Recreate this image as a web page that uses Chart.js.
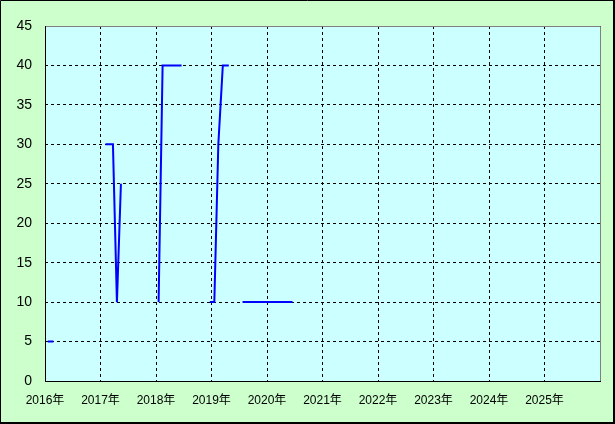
<!DOCTYPE html>
<html>
<head>
<meta charset="utf-8">
<script src="https://cdn.jsdelivr.net/npm/chart.js@4/dist/chart.umd.min.js"></script>
<style>
  html, body { margin: 0; padding: 0; background: #ccffcc; }
  canvas { display: block; }
</style>
</head>
<body>
<canvas id="c" width="615" height="424"></canvas>
<script>
// Decimal-year positions of the recorded values (null value = break in the line)
const dates = [
  2016.05, 2016.15, 2016.60,
  2017.09, 2017.224, 2017.296, 2017.368, 2017.70,
  2018.047, 2018.119, 2018.461, 2018.70,
  2018.970, 2019.051, 2019.123, 2019.204, 2019.312, 2019.45,
  2019.559, 2020.459
];
const values = [
  5, 5, null,
  30, 30, 10, 25, null,
  10, 40, 40, null,
  10, 10, 30, 40, 40, null,
  10, 10
];
const yearTicks = [2016, 2017, 2018, 2019, 2020, 2021, 2022, 2023, 2024, 2025];
const yearSuffix = '年';

const points = dates.map((d, i) => ({ x: d, y: values[i] }));

const bgPlugin = {
  id: 'bg',
  beforeDraw(chart) {
    const { ctx, chartArea: a } = chart;
    ctx.save();
    ctx.fillStyle = '#ccffcc';
    ctx.fillRect(0, 0, chart.width, chart.height);
    ctx.fillStyle = '#ccffff';
    ctx.fillRect(a.left, a.top, a.right - a.left, a.bottom - a.top);
    ctx.restore();
  },
  afterDraw(chart) {
    const { ctx, chartArea: a } = chart;
    ctx.save();
    ctx.lineWidth = 1;
    // plot frame: gray top/right, black left/bottom
    ctx.strokeStyle = '#808080';
    ctx.beginPath();
    ctx.moveTo(a.left, a.top + 0.5);
    ctx.lineTo(a.right + 0.5, a.top + 0.5);
    ctx.lineTo(a.right + 0.5, a.bottom);
    ctx.stroke();
    ctx.strokeStyle = '#000000';
    ctx.beginPath();
    ctx.moveTo(a.left + 0.5, a.top);
    ctx.lineTo(a.left + 0.5, a.bottom + 0.5);
    ctx.lineTo(a.right + 1, a.bottom + 0.5);
    ctx.stroke();
    // outer border
    ctx.beginPath();
    ctx.moveTo(0.5, chart.height);
    ctx.lineTo(0.5, 0.5);
    ctx.lineTo(chart.width, 0.5);
    ctx.stroke();
    ctx.fillStyle = '#000000';
    ctx.fillRect(chart.width - 2, 0, 2, chart.height);
    ctx.fillRect(0, chart.height - 2, chart.width, 2);
    ctx.restore();
  }
};

new Chart(document.getElementById('c'), {
  type: 'line',
  data: {
    datasets: [{
      data: points,
      borderColor: '#0000ff',
      borderWidth: 2,
      pointRadius: 0,
      spanGaps: false,
      tension: 0,
      fill: false
    }]
  },
  options: {
    responsive: false,
    animation: false,
    devicePixelRatio: 1,
    parsing: true,
    layout: { padding: { left: 0, top: 26, right: 15, bottom: 0 } },
    plugins: { legend: { display: false }, tooltip: { enabled: false } },
    scales: {
      x: {
        type: 'linear',
        min: 2016,
        max: 2026,
        afterBuildTicks(scale) {
          scale.ticks = yearTicks.concat([2026]).map(v => ({ value: v }));
        },
        afterFit(scale) { scale.height = 43; },
        grid: { color: '#000000', lineWidth: 1, drawTicks: false },
        border: { display: false, dash: [3, 3] },
        ticks: {
          autoSkip: false,
          maxRotation: 0,
          padding: 12,
          color: '#000000',
          font: { family: "'Liberation Sans', 'Noto Sans CJK JP', sans-serif", size: 12 },
          callback(v) { return yearTicks.includes(v) ? v + yearSuffix : ''; }
        }
      },
      y: {
        min: 0,
        max: 45,
        afterFit(scale) { scale.width = 45; },
        grid: { color: '#000000', lineWidth: 1, drawTicks: false },
        border: { display: false, dash: [3, 3] },
        ticks: {
          stepSize: 5,
          padding: 13,
          color: '#000000',
          font: { family: "'Liberation Sans', sans-serif", size: 14 }
        }
      }
    }
  },
  plugins: [bgPlugin]
});
</script>
</body>
</html>
